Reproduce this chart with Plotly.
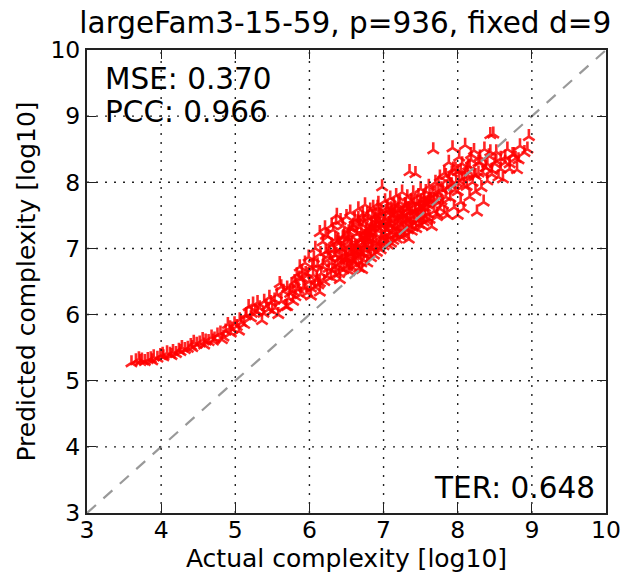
import plotly.graph_objects as go

title_text = "largeFam3-15-59, p=936, fixed d=9"
x_label = "Actual complexity [log10]"
y_label = "Predicted complexity [log10]"
tick_values = [3, 4, 5, 6, 7, 8, 9, 10]
tick_labels = ["3", "4", "5", "6", "7", "8", "9", "10"]
diag_line = [3, 10]
stat_mse = "MSE: 0.370"
stat_pcc = "PCC: 0.966"
stat_ter = "TER: 0.648"

actual = [
3.60,3.66,3.70,3.74,3.78,3.82,3.86,3.90,3.95,3.99,
4.03,4.08,4.12,4.16,4.20,4.24,4.28,4.32,4.36,4.40,
4.44,4.48,4.52,4.56,4.60,4.64,4.68,4.72,4.76,4.80,
4.84,4.87,4.90,4.93,4.96,4.99,5.02,5.05,5.08,5.12,
5.15,5.18,5.21,5.24,5.27,5.30,5.33,5.36,5.39,5.42,
5.45,5.48,5.50,5.53,5.56,5.58,5.60,5.62,5.65,5.68,
5.70,5.72,5.74,5.76,5.78,5.80,5.81,5.83,5.85,5.87,
5.88,5.90,5.92,5.94,5.95,5.97,5.99,6.00,6.02,6.04,
6.05,6.06,6.07,6.08,6.10,6.11,6.12,6.14,6.14,6.15,
6.16,6.18,6.19,6.20,6.21,6.22,6.24,6.25,6.26,6.28,
6.29,6.30,6.31,6.32,6.34,6.35,6.36,6.37,6.38,6.39,
6.40,6.41,6.42,6.44,6.45,6.46,6.47,6.48,6.50,6.51,
6.52,6.53,6.54,6.55,6.56,6.57,6.58,6.60,6.61,6.62,
6.63,6.64,6.65,6.66,6.67,6.68,6.70,6.71,6.71,6.72,
6.73,6.74,6.75,6.76,6.77,6.78,6.79,6.80,6.81,6.82,
6.83,6.84,6.85,6.86,6.87,6.88,6.89,6.90,6.91,6.92,
6.93,6.94,6.95,6.96,6.97,6.98,6.99,7.00,7.01,7.02,
7.03,7.04,7.05,7.06,7.07,7.08,7.09,7.10,7.11,7.12,
7.13,7.14,7.15,7.16,7.17,7.18,7.19,7.20,7.21,7.22,
7.23,7.24,7.25,7.26,7.27,7.28,7.29,7.30,7.31,7.32,
7.33,7.34,7.35,7.36,7.37,7.38,7.39,7.40,7.41,7.42,
7.43,7.44,7.45,7.46,7.47,7.48,7.49,7.50,7.51,7.52,
7.53,7.54,7.55,7.56,7.57,7.58,7.59,7.60,7.61,7.62,
7.63,7.65,7.67,7.68,7.70,7.72,7.74,7.76,7.78,7.80,
7.82,7.84,7.86,7.88,7.90,7.92,7.93,7.95,7.97,8.00,
8.00,8.02,8.04,8.06,8.08,8.10,8.12,8.14,8.16,8.18,
8.20,8.22,8.24,8.26,8.28,8.30,8.32,8.35,8.36,8.38,
8.40,8.42,8.44,8.46,8.48,8.50,8.52,8.55,8.58,8.61,
8.64,8.67,8.70,8.74,8.78,8.80,8.84,8.90,8.94,8.96,
6.22,6.30,6.37,6.42,6.48,6.55,6.60,6.66,6.70,6.76,
6.34,6.44,6.52,6.58,6.64,6.74,6.84,6.92,7.02,7.10,
6.80,6.88,6.94,7.00,7.06,7.14,7.20,7.26,7.32,7.38,
7.05,7.12,7.18,7.24,7.30,7.36,7.43,7.50,7.56,7.62,
6.25,6.33,6.40,6.46,6.53,6.59,6.65,6.72,6.78,6.85,
6.42,6.50,6.56,6.63,6.69,6.75,6.82,6.88,6.95,7.01,
6.95,7.03,7.09,7.16,7.22,7.29,7.35,7.41,7.48,7.54,
7.60,7.66,7.72,7.78,7.84,7.90,7.96,8.02,8.08,8.14,
7.70,7.76,7.82,7.88,7.94,8.00,8.06,8.12,8.18,8.24,
8.28,8.34,8.40,8.46,8.52,8.58,8.64,8.70,8.76,8.82,
3.72,3.88,4.02,4.14,4.26,4.42,4.58,4.70,4.82,4.94,
5.06,5.14,5.22,5.30,5.38,5.46,5.54,5.62,5.70,5.78,
5.82,5.86,5.90,5.94,5.98,6.02,6.06,6.10,6.14,6.18,
6.30,6.36,6.43,6.49,6.56,6.62,6.68,6.74,6.80,6.86,
6.60,6.66,6.72,6.78,6.84,6.90,6.96,7.02,7.08,7.14,
7.20,7.26,7.32,7.38,7.44,7.50,7.56,7.62,7.68,7.74,
6.27,6.35,6.41,6.47,6.54,6.61,6.67,6.73,6.79,6.83,
6.45,6.51,6.57,6.64,6.70,6.77,6.83,6.89,6.97,7.04,
6.58,6.68,6.76,6.86,6.94,7.02,7.10,7.18,7.26,7.34,
7.08,7.15,7.23,7.31,7.39,7.47,7.55,7.64,7.72,7.80,
7.86,7.92,7.98,8.04,8.10,8.16,8.22,8.30,8.38,8.44,
]
predicted = [
5.27,5.30,5.33,5.31,5.29,5.32,5.33,5.36,5.34,5.38,
5.36,5.42,5.40,5.44,5.41,5.46,5.50,5.47,5.49,5.53,
5.58,5.55,5.57,5.62,5.60,5.59,5.66,5.63,5.69,5.72,
5.66,5.75,5.85,5.80,5.78,5.86,5.82,5.75,5.88,5.85,
6.00,6.12,5.95,6.16,6.05,6.18,6.10,5.91,6.20,6.12,
6.08,6.18,6.05,6.22,6.30,6.00,6.47,6.20,6.35,6.12,
6.40,6.25,6.32,6.45,6.20,6.50,6.27,6.60,6.38,6.72,
6.30,6.55,6.42,6.78,6.62,6.33,6.87,6.50,6.28,6.70,
6.60,6.85,6.42,7.00,6.55,6.75,6.45,7.24,6.34,6.92,
6.62,7.10,6.78,6.50,7.31,6.95,6.58,7.18,6.70,6.85,
6.56,7.05,6.66,7.28,6.90,6.60,7.40,7.50,6.75,7.12,
6.62,6.53,7.00,6.80,7.34,6.68,7.20,6.92,7.48,6.72,
6.84,7.10,6.65,7.55,6.96,6.72,7.30,6.80,7.44,7.04,
6.75,7.22,6.88,7.60,6.70,7.38,6.92,6.68,7.14,7.52,
6.82,7.05,7.66,6.98,7.28,6.78,7.46,6.92,7.15,7.58,
6.86,7.35,7.00,7.62,6.90,7.22,7.50,7.08,6.94,7.40,
7.68,7.02,7.30,6.98,7.55,7.93,7.15,7.04,7.44,7.72,
7.10,7.28,7.62,7.05,7.38,7.18,7.76,7.08,7.50,7.25,
7.12,7.66,7.32,7.20,7.80,7.14,7.45,7.58,7.22,7.70,
7.18,7.36,7.85,7.25,7.52,7.20,7.64,7.30,7.42,7.78,
7.28,7.60,8.16,7.34,7.72,7.26,7.48,7.84,7.38,7.56,
8.13,7.30,7.68,7.42,7.80,7.36,7.58,7.90,7.46,7.34,
7.62,7.40,7.74,7.48,7.86,7.42,7.66,7.52,7.94,7.44,
7.70,7.33,8.49,7.56,7.82,7.48,7.98,7.60,7.72,7.88,
7.54,8.10,7.50,8.30,7.76,7.96,8.52,7.62,8.20,7.50,
7.86,8.38,7.70,8.05,7.60,8.56,7.94,8.25,7.78,8.42,
8.00,8.48,7.86,7.55,8.14,8.30,7.92,7.70,8.50,8.22,
8.02,8.40,8.72,8.12,8.73,8.28,8.46,8.08,8.36,8.05,
8.30,8.50,8.20,8.42,8.36,8.19,8.55,8.45,8.50,8.69,
7.20,7.35,7.10,7.42,6.85,7.30,6.95,7.45,6.78,7.25,
6.72,6.88,7.15,6.82,7.02,7.40,7.32,7.62,7.45,7.60,
7.20,7.42,7.55,7.35,7.58,7.50,7.66,7.40,7.60,7.70,
7.12,7.58,7.30,7.52,7.66,7.44,7.58,7.72,7.62,7.74,
6.88,6.98,7.08,7.18,7.25,7.35,7.40,7.45,7.52,7.48,
6.70,6.82,6.92,7.02,7.12,7.18,7.22,7.30,7.36,7.40,
7.50,7.56,7.42,7.60,7.48,7.66,7.55,7.70,7.62,7.78,
7.68,7.84,7.72,7.90,7.78,7.96,7.88,8.02,7.95,8.10,
8.00,8.08,8.14,8.05,8.20,8.16,8.28,8.18,8.34,8.10,
8.30,8.14,8.28,8.18,8.32,8.20,8.38,8.28,8.42,8.34,
5.29,5.30,5.40,5.38,5.44,5.50,5.54,5.60,5.62,5.72,
5.92,5.98,6.02,6.04,6.02,6.26,6.10,6.42,6.12,6.35,
6.45,6.55,6.65,6.40,6.60,6.40,6.75,6.52,6.48,6.72,
6.78,6.90,7.00,6.86,7.05,6.95,7.15,7.05,7.25,7.12,
6.88,6.98,7.08,7.15,7.28,7.34,7.10,7.20,7.35,7.45,
7.40,7.50,7.44,7.56,7.50,7.62,7.68,7.80,7.74,7.84,
6.98,7.14,6.85,7.02,7.20,6.78,7.32,6.92,7.04,7.24,
7.16,6.74,7.08,6.95,7.26,7.12,7.00,7.36,7.18,7.28,
7.30,6.94,7.18,7.04,7.42,7.10,7.34,7.22,7.48,7.14,
7.36,7.52,7.24,7.58,7.32,7.44,7.68,7.74,7.52,7.66,
7.92,8.14,8.00,8.18,8.08,8.24,8.12,8.38,8.22,8.46,
]

fig = go.Figure()
fig.add_trace(go.Scatter(x=actual, y=predicted, mode="markers",
    marker=dict(symbol="y-up-open", size=9.5, color="rgba(255,0,0,0.85)",
                line=dict(width=2.6)),
    showlegend=False, hoverinfo="skip"))
fig.add_trace(go.Scatter(x=diag_line, y=diag_line, mode="lines",
    line=dict(color="#999999", width=2.2, dash="12px,10px"),
    showlegend=False, hoverinfo="skip"))

shapes = []
for v in tick_values[1:-1]:
    shapes.append(dict(type="line", xref="x", yref="paper", x0=v, x1=v, y0=0, y1=1,
                       line=dict(color="#222222", width=1.4, dash="2px,7px"), layer="above"))
    shapes.append(dict(type="line", xref="paper", yref="y", x0=0, x1=1, y0=v, y1=v,
                       line=dict(color="#222222", width=1.4, dash="2px,7px"), layer="above"))

font = dict(family="DejaVu Sans", color="black")
ax = dict(range=[3, 10], tickmode="array", tickvals=tick_values, ticktext=tick_labels,
          ticks="inside", ticklen=9, tickwidth=1.3, tickcolor="#222222", showgrid=False,
          zeroline=False, showline=True, linewidth=2, linecolor="#222222", mirror="ticks",
          automargin=False, tickfont=dict(size=23.5, **font))
fig.update_layout(
    width=621, height=574, autosize=False, plot_bgcolor="white", paper_bgcolor="white",
    margin=dict(l=87, r=15, t=50, b=61), shapes=shapes, font=font,
    title=dict(text=title_text, font=dict(size=29.5, **font), x=0.556, xanchor="center",
               y=0.96, yanchor="middle"),
    xaxis=dict(title=dict(text=x_label, font=dict(size=25, **font), standoff=0),
               ticklabelstandoff=-5, **ax),
    yaxis=dict(title=dict(text=y_label, font=dict(size=25, **font), standoff=8), **ax),
    annotations=[
        dict(text=stat_mse, xref="paper", yref="paper", x=0.03, y=0.938, xanchor="left", yanchor="middle",
             showarrow=False, font=dict(size=29.5, **font)),
        dict(text=stat_pcc, xref="paper", yref="paper", x=0.03, y=0.866, xanchor="left", yanchor="middle",
             showarrow=False, font=dict(size=29.5, **font)),
        dict(text=stat_ter, xref="paper", yref="paper", x=0.983, y=0.055, xanchor="right", yanchor="middle",
             showarrow=False, font=dict(size=29.5, **font)),
    ],
)
fig.write_html("out.html", config={"displayModeBar": False},
               post_script="document.documentElement.style.overflow='hidden';document.body.style.overflow='hidden';document.body.style.margin='0';")
